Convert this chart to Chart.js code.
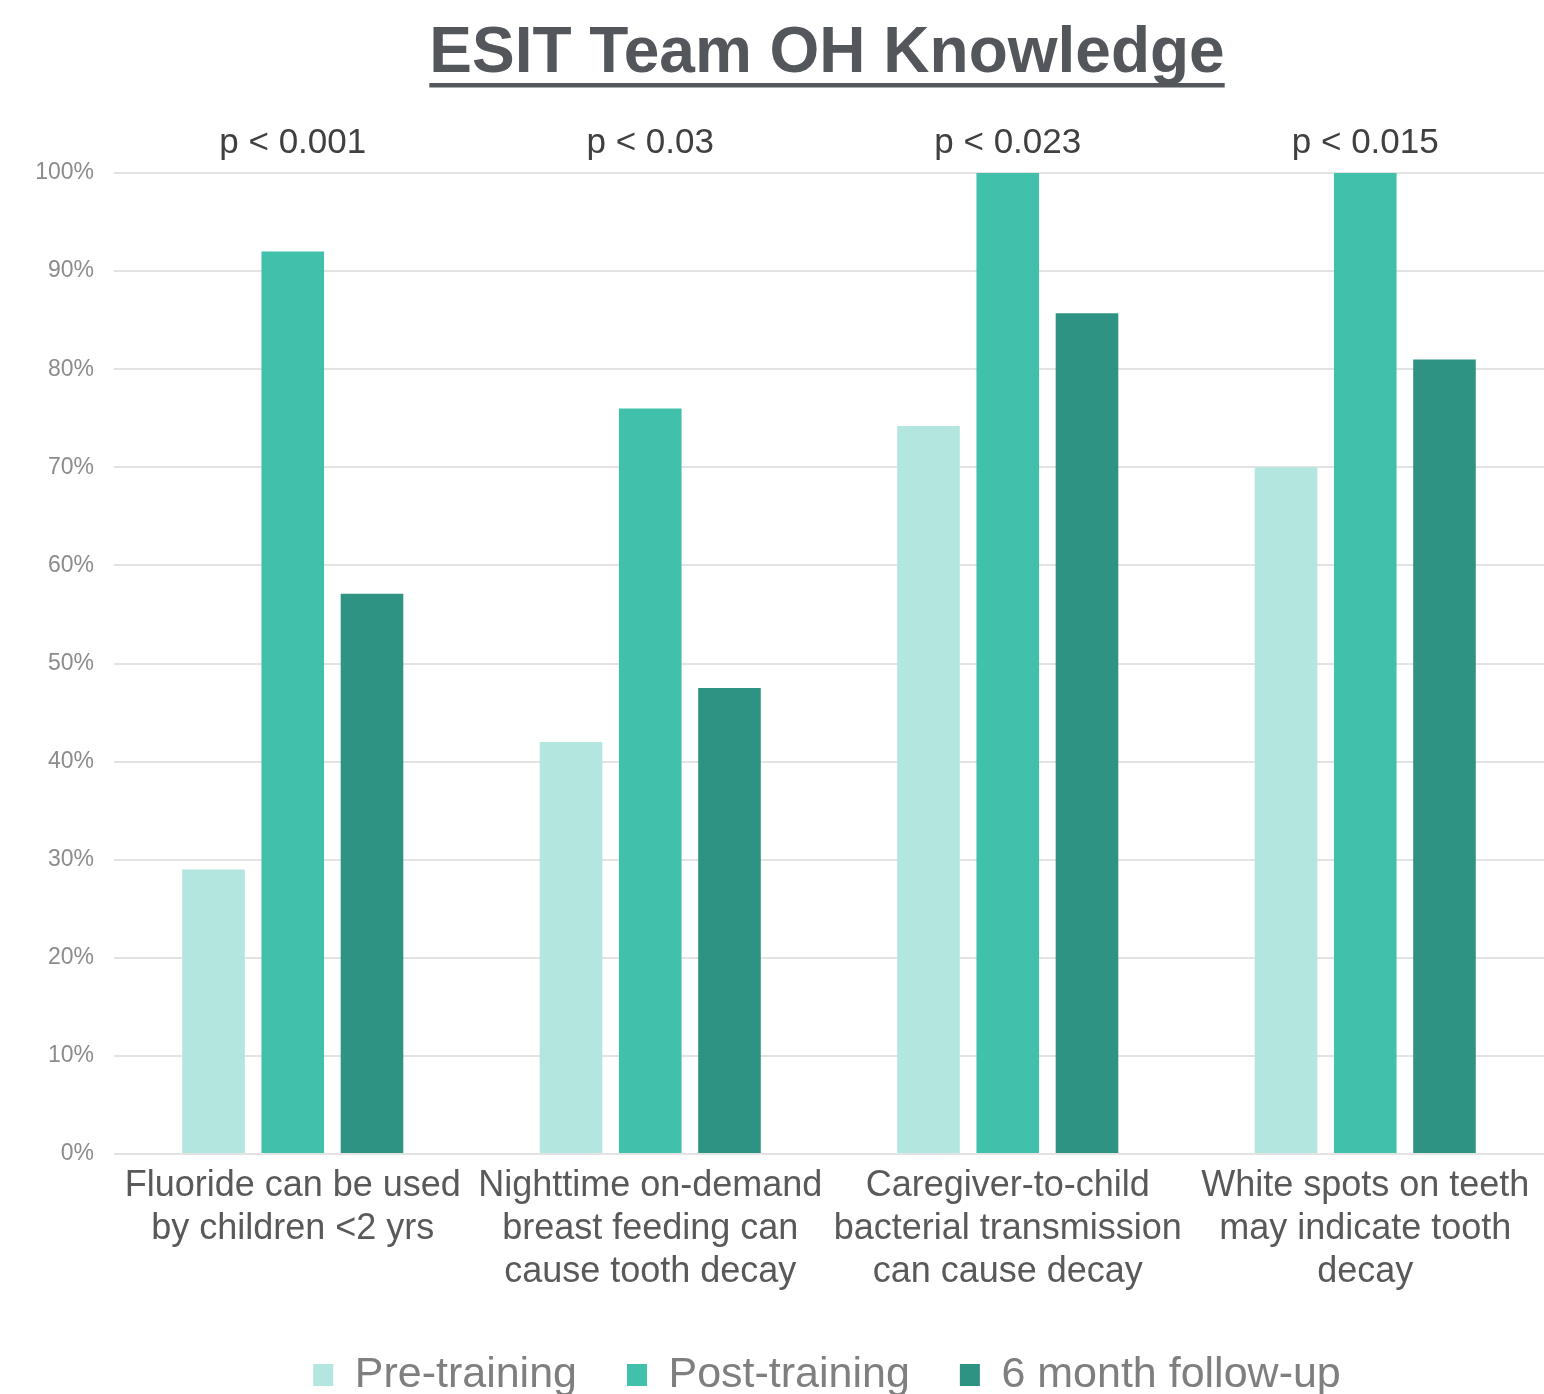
<!DOCTYPE html>
<html>
<head>
<meta charset="utf-8">
<script src="https://cdn.jsdelivr.net/npm/chart.js@4/dist/chart.umd.min.js"></script>
<style>
  html, body { margin: 0; padding: 0; background: #ffffff; }
  canvas { display: block; }
</style>
</head>
<body>
<canvas id="c" width="1544" height="1394"></canvas>
<script>
const titleText = 'ESIT Team OH Knowledge';
const categories = [
  ['Fluoride can be used', 'by children <2 yrs'],
  ['Nighttime on-demand', 'breast feeding can', 'cause tooth decay'],
  ['Caregiver-to-child', 'bacterial transmission', 'can cause decay'],
  ['White spots on teeth', 'may indicate tooth', 'decay']
];
const pValues = ['p < 0.001', 'p < 0.03', 'p < 0.023', 'p < 0.015'];
const seriesNames = ['Pre-training', 'Post-training', '6 month follow-up'];
const preTraining = [29, 42, 74.2, 70];
const postTraining = [92, 76, 100, 100];
const followUp = [57.1, 47.5, 85.7, 81];
const yTicks = [0, 10, 20, 30, 40, 50, 60, 70, 80, 90, 100];
const colors = ['#b3e6df', '#41c1ab', '#2f9383'];

const fontFamily = '"Liberation Sans", Arial, sans-serif';
Chart.defaults.font.family = fontFamily;

// width of the widest y label, so right-aligned labels end 20px left of the plot
const mctx = document.createElement('canvas').getContext('2d');
mctx.font = '23px ' + fontFamily;
const widestY = Math.max(...yTicks.map(v => mctx.measureText(v + '%').width));

const underlinePlugin = {
  id: 'titleUnderline',
  afterDraw(chart) {
    const t = chart.titleBlock;
    if (!t) return;
    const ctx = chart.ctx;
    const opts = chart.options.plugins.title;
    ctx.save();
    ctx.font = 'bold ' + opts.font.size + 'px ' + fontFamily;
    const w = ctx.measureText(titleText).width;
    const cx = (t.left + t.right) / 2;
    ctx.fillStyle = opts.color;
    ctx.fillRect(cx - w / 2, 83, w, 4.5);
    ctx.restore();
  }
};

const chart = new Chart(document.getElementById('c'), {
  type: 'bar',
  data: {
    labels: categories,
    datasets: [
      { label: seriesNames[0], data: preTraining, backgroundColor: colors[0] },
      { label: seriesNames[1], data: postTraining, backgroundColor: colors[1] },
      { label: seriesNames[2], data: followUp, backgroundColor: colors[2] }
    ]
  },
  options: {
    responsive: false,
    animation: false,
    layout: { padding: { left: 110, right: 0, top: 0, bottom: -12.5 } },
    datasets: { bar: { categoryPercentage: 0.665, barPercentage: 0.79 } },
    plugins: {
      title: {
        display: true,
        text: titleText,
        color: '#53565a',
        font: { size: 64, weight: 'bold' },
        padding: { top: 16, bottom: 0 }
      },
      legend: {
        position: 'bottom',
        labels: {
          color: '#7f7f7f',
          font: { size: 43 },
          boxWidth: 20,
          boxHeight: 22,
          padding: 50
        }
      },
      tooltip: { enabled: false }
    },
    scales: {
      x: {
        position: 'bottom',
        grid: { display: false },
        border: { display: false },
        ticks: { color: '#595959', font: { size: 36, lineHeight: 1.2 }, padding: 2, maxRotation: 0, autoSkip: false },
        afterFit(scale) { scale.height = 149.5; }
      },
      x2: {
        type: 'category',
        labels: pValues,
        position: 'top',
        offset: true,
        grid: { display: false },
        border: { display: false },
        ticks: { color: '#404040', font: { size: 35, lineHeight: 1.2 }, padding: 1, maxRotation: 0, autoSkip: false },
        afterFit(scale) { scale.height = 80.2; }
      },
      y: {
        min: 0,
        max: 100,
        afterBuildTicks(scale) { scale.ticks = yTicks.map(v => ({ value: v })); },
        grid: { color: '#e3e3e3', lineWidth: 2, drawTicks: false },
        border: { display: false },
        ticks: {
          color: '#8c8c8c', font: { size: 23 },
          mirror: true, crossAlign: 'far', padding: -20 - widestY,
          callback: v => v + '%'
        },
        afterFit(scale) { scale.width = 4; }
      }
    }
  },
  plugins: [underlinePlugin]
});
</script>
</body>
</html>
